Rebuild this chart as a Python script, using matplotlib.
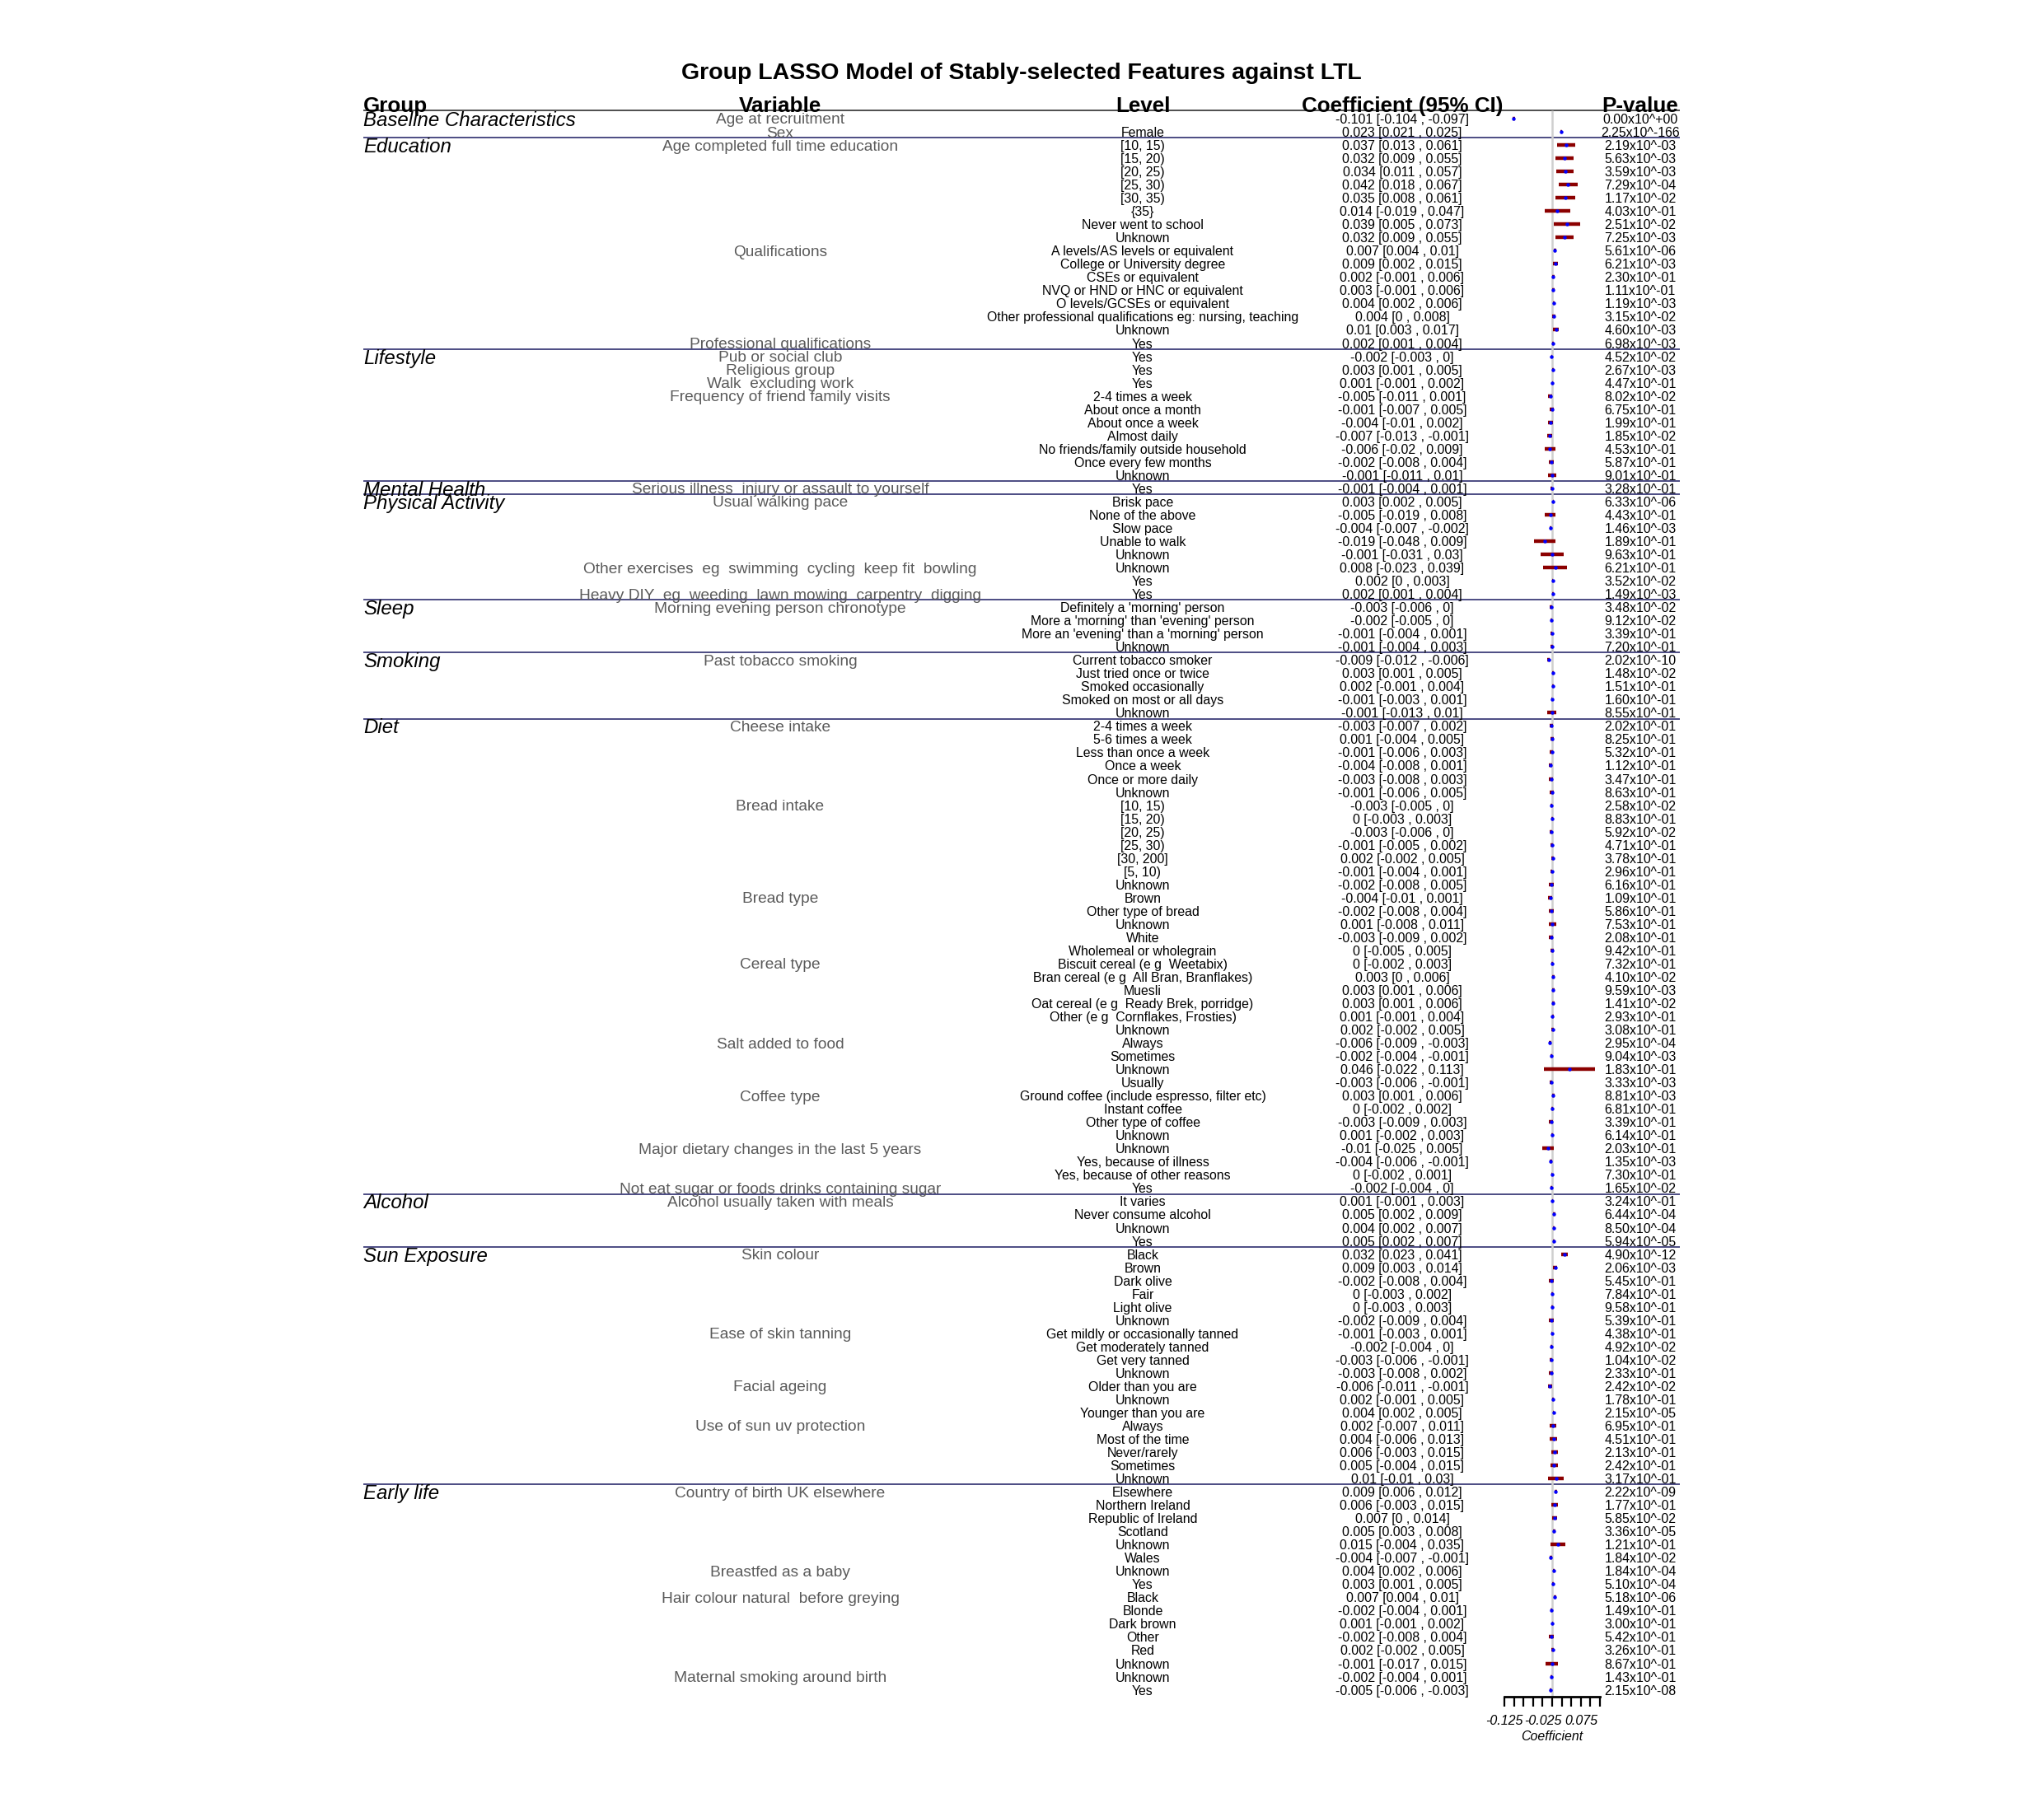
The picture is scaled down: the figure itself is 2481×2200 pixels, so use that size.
import numpy as np
import matplotlib
matplotlib.use("Agg")
import matplotlib.pyplot as plt

plt.rcParams['font.family'] = ['Liberation Sans', 'DejaVu Sans']

# ---------------- data
group_names = ["Baseline Characteristics", "Education", "Lifestyle", "Mental Health",
               "Physical Activity", "Sleep", "Smoking", "Diet", "Alcohol",
               "Sun Exposure", "Early life"]
group_nvars = [2, 3, 4, 1, 3, 1, 1, 8, 1, 4, 4]

var_names = ["Age at recruitment", "Sex",
             "Age completed full time education", "Qualifications", "Professional qualifications",
             "Pub or social club", "Religious group", "Walk  excluding work",
             "Frequency of friend family visits",
             "Serious illness  injury or assault to yourself",
             "Usual walking pace", "Other exercises  eg  swimming  cycling  keep fit  bowling",
             "Heavy DIY  eg  weeding  lawn mowing  carpentry  digging",
             "Morning evening person chronotype",
             "Past tobacco smoking",
             "Cheese intake", "Bread intake", "Bread type", "Cereal type", "Salt added to food",
             "Coffee type", "Major dietary changes in the last 5 years",
             "Not eat sugar or foods drinks containing sugar",
             "Alcohol usually taken with meals",
             "Skin colour", "Ease of skin tanning", "Facial ageing", "Use of sun uv protection",
             "Country of birth UK elsewhere", "Breastfed as a baby",
             "Hair colour natural  before greying", "Maternal smoking around birth"]
var_nlevels = [1, 1, 8, 7, 1, 1, 1, 1, 7, 1, 5, 2, 1, 4, 5,
               6, 7, 5, 6, 4, 4, 3, 1, 4, 6, 4, 3, 5, 6, 2, 6, 2]

level = ["", "Female",
         "[10, 15)", "[15, 20)", "[20, 25)", "[25, 30)", "[30, 35)", "{35}",
         "Never went to school", "Unknown",
         "A levels/AS levels or equivalent", "College or University degree", "CSEs or equivalent",
         "NVQ or HND or HNC or equivalent", "O levels/GCSEs or equivalent",
         "Other professional qualifications eg: nursing, teaching", "Unknown",
         "Yes",
         "Yes", "Yes", "Yes",
         "2-4 times a week", "About once a month", "About once a week", "Almost daily",
         "No friends/family outside household", "Once every few months", "Unknown",
         "Yes",
         "Brisk pace", "None of the above", "Slow pace", "Unable to walk", "Unknown",
         "Unknown", "Yes",
         "Yes",
         "Definitely a 'morning' person", "More a 'morning' than 'evening' person",
         "More an 'evening' than a 'morning' person", "Unknown",
         "Current tobacco smoker", "Just tried once or twice", "Smoked occasionally",
         "Smoked on most or all days", "Unknown",
         "2-4 times a week", "5-6 times a week", "Less than once a week", "Once a week",
         "Once or more daily", "Unknown",
         "[10, 15)", "[15, 20)", "[20, 25)", "[25, 30)", "[30, 200]", "[5, 10)", "Unknown",
         "Brown", "Other type of bread", "Unknown", "White", "Wholemeal or wholegrain",
         "Biscuit cereal (e g  Weetabix)", "Bran cereal (e g  All Bran, Branflakes)", "Muesli",
         "Oat cereal (e g  Ready Brek, porridge)", "Other (e g  Cornflakes, Frosties)", "Unknown",
         "Always", "Sometimes", "Unknown", "Usually",
         "Ground coffee (include espresso, filter etc)", "Instant coffee",
         "Other type of coffee", "Unknown",
         "Unknown", "Yes, because of illness", "Yes, because of other reasons",
         "Yes",
         "It varies", "Never consume alcohol", "Unknown", "Yes",
         "Black", "Brown", "Dark olive", "Fair", "Light olive", "Unknown",
         "Get mildly or occasionally tanned", "Get moderately tanned", "Get very tanned", "Unknown",
         "Older than you are", "Unknown", "Younger than you are",
         "Always", "Most of the time", "Never/rarely", "Sometimes", "Unknown",
         "Elsewhere", "Northern Ireland", "Republic of Ireland", "Scotland", "Unknown", "Wales",
         "Unknown", "Yes",
         "Black", "Blonde", "Dark brown", "Other", "Red", "Unknown",
         "Unknown", "Yes"]

coef = [-0.101, 0.023,
        0.037, 0.032, 0.034, 0.042, 0.035, 0.014, 0.039, 0.032,
        0.007, 0.009, 0.002, 0.003, 0.004, 0.004, 0.01,
        0.002,
        -0.002, 0.003, 0.001, -0.005, -0.001, -0.004, -0.007, -0.006, -0.002, -0.001,
        -0.001,
        0.003, -0.005, -0.004, -0.019, -0.001, 0.008, 0.002, 0.002,
        -0.003, -0.002, -0.001, -0.001,
        -0.009, 0.003, 0.002, -0.001, -0.001,
        -0.003, 0.001, -0.001, -0.004, -0.003, -0.001,
        -0.003, 0, -0.003, -0.001, 0.002, -0.001, -0.002,
        -0.004, -0.002, 0.001, -0.003, 0,
        0, 0.003, 0.003, 0.003, 0.001, 0.002,
        -0.006, -0.002, 0.046, -0.003,
        0.003, 0, -0.003, 0.001,
        -0.01, -0.004, 0,
        -0.002,
        0.001, 0.005, 0.004, 0.005,
        0.032, 0.009, -0.002, 0, 0, -0.002,
        -0.001, -0.002, -0.003, -0.003,
        -0.006, 0.002, 0.004,
        0.002, 0.004, 0.006, 0.005, 0.01,
        0.009, 0.006, 0.007, 0.005, 0.015, -0.004,
        0.004, 0.003,
        0.007, -0.002, 0.001, -0.002, 0.002, -0.001,
        -0.002, -0.005]

ci_low = [-0.104, 0.021,
          0.013, 0.009, 0.011, 0.018, 0.008, -0.019, 0.005, 0.009,
          0.004, 0.002, -0.001, -0.001, 0.002, 0, 0.003,
          0.001,
          -0.003, 0.001, -0.001, -0.011, -0.007, -0.01, -0.013, -0.02, -0.008, -0.011,
          -0.004,
          0.002, -0.019, -0.007, -0.048, -0.031, -0.023, 0, 0.001,
          -0.006, -0.005, -0.004, -0.004,
          -0.012, 0.001, -0.001, -0.003, -0.013,
          -0.007, -0.004, -0.006, -0.008, -0.008, -0.006,
          -0.005, -0.003, -0.006, -0.005, -0.002, -0.004, -0.008,
          -0.01, -0.008, -0.008, -0.009, -0.005,
          -0.002, 0, 0.001, 0.001, -0.001, -0.002,
          -0.009, -0.004, -0.022, -0.006,
          0.001, -0.002, -0.009, -0.002,
          -0.025, -0.006, -0.002,
          -0.004,
          -0.001, 0.002, 0.002, 0.002,
          0.023, 0.003, -0.008, -0.003, -0.003, -0.009,
          -0.003, -0.004, -0.006, -0.008,
          -0.011, -0.001, 0.002,
          -0.007, -0.006, -0.003, -0.004, -0.01,
          0.006, -0.003, 0, 0.003, -0.004, -0.007,
          0.002, 0.001,
          0.004, -0.004, -0.001, -0.008, -0.002, -0.017,
          -0.004, -0.006]

ci_high = [-0.097, 0.025,
           0.061, 0.055, 0.057, 0.067, 0.061, 0.047, 0.073, 0.055,
           0.01, 0.015, 0.006, 0.006, 0.006, 0.008, 0.017,
           0.004,
           0, 0.005, 0.002, 0.001, 0.005, 0.002, -0.001, 0.009, 0.004, 0.01,
           0.001,
           0.005, 0.008, -0.002, 0.009, 0.03, 0.039, 0.003, 0.004,
           0, 0, 0.001, 0.003,
           -0.006, 0.005, 0.004, 0.001, 0.01,
           0.002, 0.005, 0.003, 0.001, 0.003, 0.005,
           0, 0.003, 0, 0.002, 0.005, 0.001, 0.005,
           0.001, 0.004, 0.011, 0.002, 0.005,
           0.003, 0.006, 0.006, 0.006, 0.004, 0.005,
           -0.003, -0.001, 0.113, -0.001,
           0.006, 0.002, 0.003, 0.003,
           0.005, -0.001, 0.001,
           0,
           0.003, 0.009, 0.007, 0.007,
           0.041, 0.014, 0.004, 0.002, 0.003, 0.004,
           0.001, 0, -0.001, 0.002,
           -0.001, 0.005, 0.005,
           0.011, 0.013, 0.015, 0.015, 0.03,
           0.012, 0.015, 0.014, 0.008, 0.035, -0.001,
           0.006, 0.005,
           0.01, 0.001, 0.002, 0.004, 0.005, 0.015,
           0.001, -0.003]

p_value = [0.00e+00, 2.25e-166,
           2.19e-03, 5.63e-03, 3.59e-03, 7.29e-04, 1.17e-02, 4.03e-01, 2.51e-02, 7.25e-03,
           5.61e-06, 6.21e-03, 2.30e-01, 1.11e-01, 1.19e-03, 3.15e-02, 4.60e-03,
           6.98e-03,
           4.52e-02, 2.67e-03, 4.47e-01, 8.02e-02, 6.75e-01, 1.99e-01, 1.85e-02, 4.53e-01,
           5.87e-01, 9.01e-01,
           3.28e-01,
           6.33e-06, 4.43e-01, 1.46e-03, 1.89e-01, 9.63e-01, 6.21e-01, 3.52e-02, 1.49e-03,
           3.48e-02, 9.12e-02, 3.39e-01, 7.20e-01,
           2.02e-10, 1.48e-02, 1.51e-01, 1.60e-01, 8.55e-01,
           2.02e-01, 8.25e-01, 5.32e-01, 1.12e-01, 3.47e-01, 8.63e-01,
           2.58e-02, 8.83e-01, 5.92e-02, 4.71e-01, 3.78e-01, 2.96e-01, 6.16e-01,
           1.09e-01, 5.86e-01, 7.53e-01, 2.08e-01, 9.42e-01,
           7.32e-01, 4.10e-02, 9.59e-03, 1.41e-02, 2.93e-01, 3.08e-01,
           2.95e-04, 9.04e-03, 1.83e-01, 3.33e-03,
           8.81e-03, 6.81e-01, 3.39e-01, 6.14e-01,
           2.03e-01, 1.35e-03, 7.30e-01,
           1.65e-02,
           3.24e-01, 6.44e-04, 8.50e-04, 5.94e-05,
           4.90e-12, 2.06e-03, 5.45e-01, 7.84e-01, 9.58e-01, 5.39e-01,
           4.38e-01, 4.92e-02, 1.04e-02, 2.33e-01,
           2.42e-02, 1.78e-01, 2.15e-05,
           6.95e-01, 4.51e-01, 2.13e-01, 2.42e-01, 3.17e-01,
           2.22e-09, 1.77e-01, 5.85e-02, 3.36e-05, 1.21e-01, 1.84e-02,
           1.84e-04, 5.10e-04,
           5.18e-06, 1.49e-01, 3.00e-01, 5.42e-01, 3.26e-01, 8.67e-01,
           1.43e-01, 2.15e-08]

axis_ticks = np.linspace(-0.125, 0.125, 11)
axis_labels = ["-0.125", "", "", "", "-0.025", "", "", "", "0.075", "", ""]

# ---------------- layout (pixels of the 2481x2200 canvas)
W, H = 2481, 2200
row0, row_h = 144, 16.03          # y of first row, row pitch
x_group, x_var, x_level, x_coef, x_p = 441, 947, 1387, 1702, 1991
x_line_end = 2039
forest_left, forest_w = 1826, 116


def fmt(v):
    s = "%g" % v
    return "0" if s == "-0" else s


n = len(level)
rows = np.arange(n)
ylim = ((H - row0) / row_h, -row0 / row_h)

fig = plt.figure(figsize=(W / 100, H / 100), dpi=100)
ax = fig.add_axes([0, 0, 1, 1])
ax.set_xlim(0, W)
ax.set_ylim(*ylim)
ax.axis('off')

# title and header
ax.text(1240, (89 - row0) / row_h, "Group LASSO Model of Stably-selected Features against LTL",
        ha='center', va='center', fontsize=20.5, fontweight='bold')
hy = -0.5
hdr = dict(fontsize=18.7, fontweight='bold', va='baseline')
ax.text(x_group, hy, "Group", ha='left', **hdr)
ax.text(x_var, hy, "Variable", ha='center', **hdr)
ax.text(x_level, hy, "Level", ha='center', **hdr)
ax.text(x_coef, hy, "Coefficient (95% CI)", ha='center', **hdr)
ax.text(x_p, hy, "P-value", ha='center', **hdr)
ax.hlines(-0.6, x_group, x_line_end, color='#404040', lw=1.3)

# group labels and separators
start = 0
vi = 0
for g, nv in zip(group_names, group_nvars):
    nrow = sum(var_nlevels[vi:vi + nv])
    ax.text(x_group, start, g, ha='left', va='center_baseline', fontsize=17.3, style='italic')
    if start > 0:
        ax.hlines(start - 0.55, x_group, x_line_end, color='#2e2e6e', lw=1.2)
    vi += nv
    start += nrow

# variable labels on the first row of each variable
vstart = np.concatenate([[0], np.cumsum(var_nlevels)[:-1]])
for name, r in zip(var_names, vstart):
    ax.text(x_var, r, name, ha='center', va='center_baseline', fontsize=13.8, color='#5a5a5a')

# level, coefficient and p-value columns
for r in rows:
    ax.text(x_level, r, level[r], ha='center', va='center_baseline', fontsize=11.4)
    ax.text(x_coef, r, "%s [%s , %s]" % (fmt(coef[r]), fmt(ci_low[r]), fmt(ci_high[r])),
            ha='center', va='center_baseline', fontsize=11.4)
    ax.text(x_p, r, ("%.2e" % p_value[r]).replace("e", "x10^"),
            ha='center', va='center_baseline', fontsize=11.4)

# forest plot
fx = fig.add_axes([forest_left / W, 0, forest_w / W, 1])
fx.patch.set_alpha(0)
fx.set_xlim(-0.125, 0.125)
fx.set_ylim(*ylim)
axis_row = (2060 - row0) / row_h
fx.vlines(0, -0.6, axis_row, color='#cfcfcf', lw=1.8, zorder=1)
fx.hlines(rows, ci_low, ci_high, color='#8b0000', lw=3.2, zorder=2)
fx.plot(coef, rows, 'o', color='blue', ms=3.2, mec='none', zorder=3)
for s in ['left', 'right', 'top']:
    fx.spines[s].set_visible(False)
fx.spines['bottom'].set_position(('data', axis_row))
fx.spines['bottom'].set_linewidth(2)
fx.set_yticks([])
fx.set_xticks(axis_ticks)
fx.set_xticklabels(axis_labels)
fx.tick_params(axis='x', direction='out', length=8.8, width=1.6, labelsize=11.5, pad=7)
for lbl in fx.get_xticklabels():
    lbl.set_fontstyle('italic')
fx.set_xlabel("Coefficient", fontsize=11.4, style='italic', labelpad=3)

fig.savefig("out.png", dpi=100)
